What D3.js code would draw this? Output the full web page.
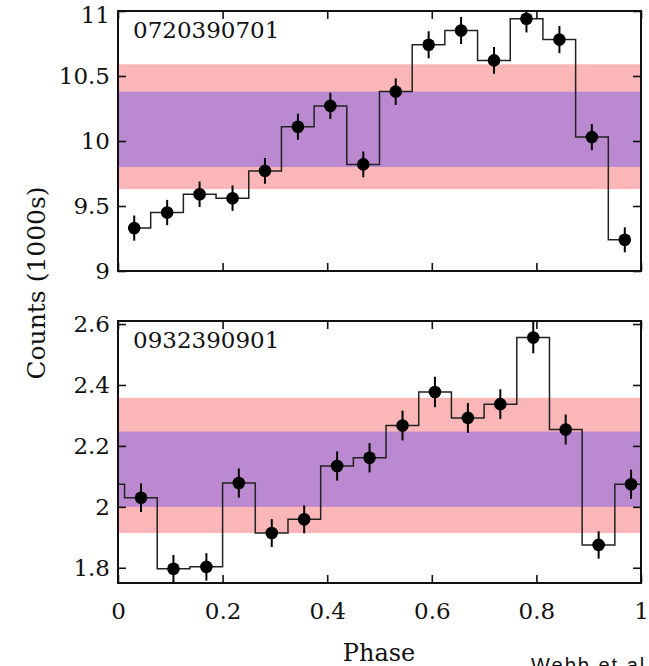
<!DOCTYPE html>
<html>
  <head>
    <script src="https://d3js.org/d3.v7.min.js"></script>
    <style>
      body { margin: 0; background: #fff; }
      text { font-family: "DejaVu Serif", serif; fill: #111; }
    </style>
  </head>
  <body>
    <div id="chart"></div>
    <script>
      // observation ids (one per panel)
      const obsIds = ["0720390701", "0932390901"];

      // phase of each bin centre
      const phaseTop = [0.031, 0.094, 0.156, 0.219, 0.281, 0.344, 0.406, 0.469,
                        0.531, 0.594, 0.656, 0.719, 0.781, 0.844, 0.906, 0.969];
      const phaseBot = [0.044, 0.106, 0.169, 0.231, 0.294, 0.356, 0.419, 0.481,
                        0.544, 0.606, 0.669, 0.731, 0.794, 0.856, 0.919, 0.981];

      // counts (1000s) and errors
      const countsTop = [9.33, 9.45, 9.59, 9.56, 9.77, 10.11, 10.27, 9.82,
                         10.38, 10.74, 10.85, 10.62, 10.94, 10.78, 10.03, 9.24];
      const errTop = [0.097, 0.097, 0.098, 0.098, 0.099, 0.100, 0.101, 0.099,
                      0.102, 0.104, 0.104, 0.103, 0.105, 0.104, 0.100, 0.096];
      const countsBot = [2.03, 1.797, 1.803, 2.078, 1.914, 1.959, 2.134, 2.161,
                         2.267, 2.377, 2.292, 2.337, 2.556, 2.254, 1.875, 2.074];
      const errBot = [0.047, 0.045, 0.045, 0.048, 0.046, 0.046, 0.048, 0.048,
                      0.049, 0.050, 0.049, 0.049, 0.052, 0.049, 0.045, 0.048];

      // shaded ranges [low, high]
      const outerTop = [9.63, 10.59], innerTop = [9.80, 10.38];
      const outerBot = [1.914, 2.358], innerBot = [2.0, 2.247];

      // tick labels
      const yTicksTop = [9, 9.5, 10, 10.5, 11];
      const yTicksBot = [1.8, 2, 2.2, 2.4, 2.6];
      const xTicks = [0, 0.2, 0.4, 0.6, 0.8, 1];

      var width = 649, height = 666;
      var svg = d3.select("#chart").append("svg")
        .attr("width", width).attr("height", height);

      var x = d3.scaleLinear().domain([0, 1]).range([118, 641]);

      var panels = [
        { id: obsIds[0], phase: phaseTop, counts: countsTop, err: errTop,
          outer: outerTop, inner: innerTop, ticks: yTicksTop, minor: 0.1,
          y: d3.scaleLinear().domain([9, 11]).range([271, 11]), wrap: false, labels: false },
        { id: obsIds[1], phase: phaseBot, counts: countsBot, err: errBot,
          outer: outerBot, inner: innerBot, ticks: yTicksBot, minor: 0.05,
          y: d3.scaleLinear().domain([1.75, 2.61]).range([583, 321]), wrap: true, labels: true }
      ];

      var fmt = function(d) { return String(+d.toFixed(2)); };

      panels.forEach(function(p, k) {
        var y = p.y;
        var top = y.range()[1], bot = y.range()[0];
        var g = svg.append("g");

        var clipId = "clip" + k;
        svg.append("clipPath").attr("id", clipId)
          .append("rect").attr("x", x(0)).attr("y", top)
          .attr("width", x(1) - x(0)).attr("height", bot - top);

        // bands
        g.append("rect").attr("x", x(0)).attr("width", x(1) - x(0))
          .attr("y", y(p.outer[1])).attr("height", y(p.outer[0]) - y(p.outer[1]))
          .attr("fill", "#fbb7b7");
        g.append("rect").attr("x", x(0)).attr("width", x(1) - x(0))
          .attr("y", y(p.inner[1])).attr("height", y(p.inner[0]) - y(p.inner[1]))
          .attr("fill", "#bb89d0");

        // step line
        var pts = p.phase.map(function(ph, i) { return [ph, p.counts[i]]; });
        if (p.wrap) {
          var n = pts.length;
          pts = [[pts[n - 1][0] - 1, pts[n - 1][1]]].concat(pts, [[pts[0][0] + 1, pts[0][1]]]);
        }
        var line = d3.line()
          .x(function(d) { return x(d[0]); })
          .y(function(d) { return y(d[1]); })
          .curve(d3.curveStep);
        g.append("path").attr("d", line(pts))
          .attr("clip-path", "url(#" + clipId + ")")
          .attr("fill", "none").attr("stroke", "#222").attr("stroke-width", 1.5);

        // error bars + points
        var pg = g.append("g").attr("clip-path", "url(#" + clipId + ")");
        pg.selectAll("line.err").data(p.phase).enter().append("line")
          .attr("x1", function(d) { return x(d); }).attr("x2", function(d) { return x(d); })
          .attr("y1", function(d, i) { return y(p.counts[i] - p.err[i]); })
          .attr("y2", function(d, i) { return y(p.counts[i] + p.err[i]); })
          .attr("stroke", "#000").attr("stroke-width", 2);
        pg.selectAll("circle").data(p.phase).enter().append("circle")
          .attr("cx", function(d) { return x(d); })
          .attr("cy", function(d, i) { return y(p.counts[i]); })
          .attr("r", 6.3).attr("fill", "#000");

        // axes, ticks inward on all sides
        var yMinor = d3.range(y.domain()[0], y.domain()[1] + 1e-9, p.minor);
        var xMinor = d3.range(0, 1.0001, 0.05);

        var left = g.append("g").attr("transform", "translate(" + x(0) + ",0)");
        left.call(d3.axisLeft(y).tickValues(yMinor).tickSize(-4).tickFormat(""));
        left.call(d3.axisLeft(y).tickValues(p.ticks).tickSize(-8).tickPadding(8).tickFormat(fmt));
        var right = g.append("g").attr("transform", "translate(" + x(1) + ",0)");
        right.call(d3.axisRight(y).tickValues(yMinor).tickSize(-4).tickFormat(""));
        right.call(d3.axisRight(y).tickValues(p.ticks).tickSize(-8).tickFormat(""));
        var bottom = g.append("g").attr("transform", "translate(0," + bot + ")");
        bottom.call(d3.axisBottom(x).tickValues(xMinor).tickSize(-4).tickFormat(""));
        bottom.call(d3.axisBottom(x).tickValues(xTicks).tickSize(-8).tickPadding(20)
          .tickFormat(p.labels ? fmt : ""));
        var topAx = g.append("g").attr("transform", "translate(0," + top + ")");
        topAx.call(d3.axisTop(x).tickValues(xMinor).tickSize(-4).tickFormat(""));
        topAx.call(d3.axisTop(x).tickValues(xTicks).tickSize(-8).tickFormat(""));

        g.selectAll(".domain").remove();
        g.selectAll(".tick line").attr("stroke", "#111").attr("stroke-width", 1.6);
        g.selectAll(".tick text").style("font-size", "23px")
          .style("font-family", "'DejaVu Serif', serif").attr("fill", "#111");

        // keep the topmost label of the upper panel inside the page
        if (k === 0) {
          left.selectAll(".tick text")
            .filter(function(d) { return d === 11; })
            .attr("dy", "0.5em");
        }

        // frame
        g.append("rect").attr("x", x(0)).attr("y", top)
          .attr("width", x(1) - x(0)).attr("height", bot - top)
          .attr("fill", "none").attr("stroke", "#111").attr("stroke-width", 2);

        // obs id
        g.append("text").attr("x", 133).attr("y", top + 27)
          .style("font-size", "23px").text(p.id);
      });

      // axis titles
      svg.append("text")
        .attr("transform", "translate(45,283) rotate(-90)")
        .attr("text-anchor", "middle")
        .style("font-size", "25px")
        .text("Counts (1000s)");
      svg.append("text")
        .attr("x", 379).attr("y", 661)
        .attr("text-anchor", "middle")
        .style("font-size", "24px")
        .text("Phase");

      // caption at bottom right, cut by the page edge as in the original
      svg.append("text")
        .attr("x", 531).attr("y", 672)
        .style("font-family", "'Liberation Sans', sans-serif")
        .style("font-size", "20px")
        .style("letter-spacing", "2px")
        .text("Webb et al.");
    </script>
  </body>
</html>
